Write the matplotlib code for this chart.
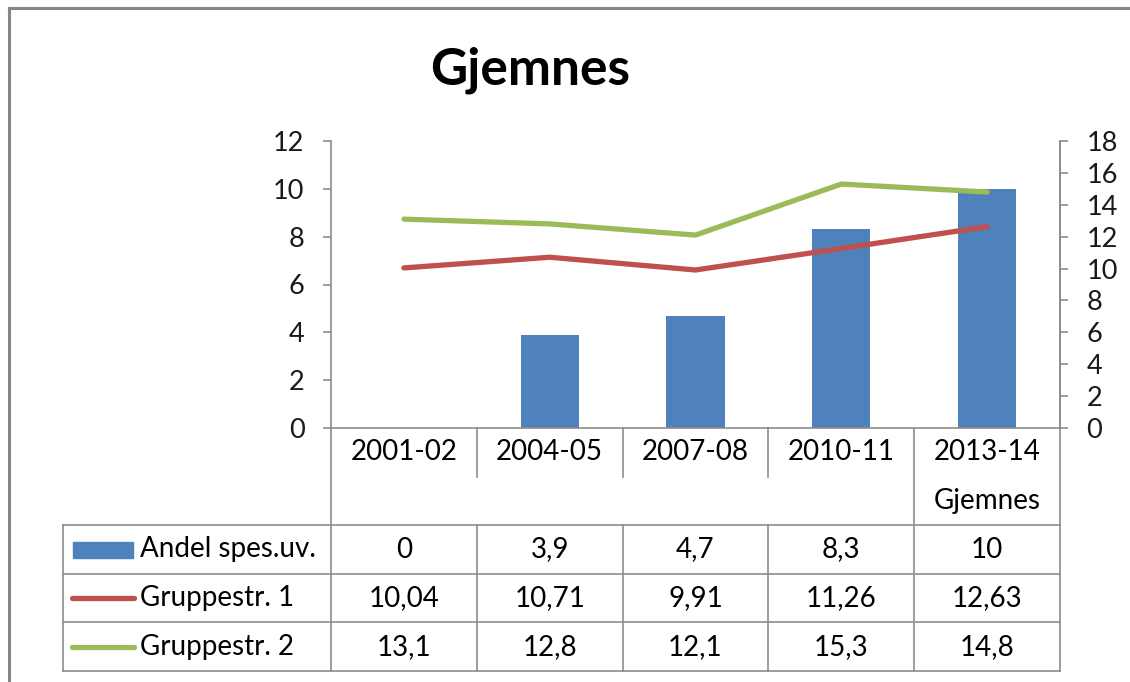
import numpy as np
import matplotlib
matplotlib.use("Agg")
import matplotlib.pyplot as plt
from matplotlib.lines import Line2D
from matplotlib.patches import Rectangle

# data
perioder = ["2001-02", "2004-05", "2007-08", "2010-11", "2013-14"]
andel = [0, 3.9, 4.7, 8.3, 10]
gruppe1 = [10.04, 10.71, 9.91, 11.26, 12.63]
gruppe2 = [13.1, 12.8, 12.1, 15.3, 14.8]
serier = ["Andel spes.uv.", "Gruppestr. 1", "Gruppestr. 2"]

blaa = "#4F81BD"
rod = "#C0504D"
gronn = "#9BBB59"
graa = "#8C8C8C"

plt.rcParams['font.family'] = ['Lato', 'DejaVu Sans']

W, H = 1130, 682
fig = plt.figure(figsize=(W / 100, H / 100), dpi=100)

def fx(px):
    return px / W

def fy(py):
    return 1 - py / H

# plot area in pixels
L, R, T, B = 331, 1060, 141, 428
ax = fig.add_axes([fx(L), fy(B), fx(R) - fx(L), fy(T) - fy(B)])
x = np.arange(len(perioder)) + 0.5
ax.bar(x, andel, width=0.4, color=blaa, zorder=2)
ax.set_xlim(0, len(perioder))
ax.set_ylim(0, 12)
ax.set_yticks(range(0, 13, 2))
ax.set_xticks([])
ax.spines["top"].set_visible(False)
for s in ["left", "right", "bottom"]:
    ax.spines[s].set_color(graa)
    ax.spines[s].set_linewidth(1.2)
ax.tick_params(axis="y", direction="out", length=6, width=1.2, color=graa,
               labelsize=19.5, pad=13, labelcolor="#1a1a1a")
ax.patch.set_alpha(0)

ax2 = ax.twinx()
ax2.plot(x, gruppe1, color=rod, lw=3.8, solid_capstyle="round", zorder=3)
ax2.plot(x, gruppe2, color=gronn, lw=3.8, solid_capstyle="round", zorder=3)
ax2.set_ylim(0, 18)
ax2.set_yticks(range(0, 19, 2))
for s in ["top", "left", "bottom"]:
    ax2.spines[s].set_visible(False)
ax2.spines["right"].set_color(graa)
ax2.spines["right"].set_linewidth(1.2)
ax2.tick_params(axis="y", direction="out", length=6, width=1.2, color=graa,
                labelsize=19.5, pad=13, labelcolor="#1a1a1a")

# title
fig.text(fx(530), fy(70), "Gjemnes", fontsize=37, fontweight="bold",
         ha="center", va="center")

# data table below the axis
tab = fig.add_axes([0, 0, 1, 1])
tab.set_xlim(0, W)
tab.set_ylim(H, 0)
tab.axis("off")
tab.patch.set_alpha(0)

colw = (R - L) / len(perioder)
TL = 63
rad = (671 - B) / 5
lc = dict(color=graa, lw=1.2)

for k in range(2, 6):
    yy = B + k * rad
    tab.plot([TL, R], [yy, yy], **lc)
tab.plot([TL, TL], [B + 2 * rad, B + 5 * rad], **lc)
for i in range(len(perioder) + 1):
    xx = L + i * colw
    if i in (0, len(perioder) - 1, len(perioder)):
        tab.plot([xx, xx], [B, B + 5 * rad], **lc)
    else:
        tab.plot([xx, xx], [B, B + rad], **lc)
        tab.plot([xx, xx], [B + 2 * rad, B + 5 * rad], **lc)

fs = 20
for i, p in enumerate(perioder):
    cx = L + (i + 0.5) * colw
    tab.text(cx, B + 0.5 * rad, p, fontsize=fs, ha="center", va="center")
tab.text(L + 4.5 * colw, B + 1.5 * rad, "Gjemnes", fontsize=fs,
         ha="center", va="center")

def fmt(v):
    return ("%g" % v).replace(".", ",")

for r, vals in enumerate([andel, gruppe1, gruppe2]):
    cy = B + (2.5 + r) * rad
    for i, v in enumerate(vals):
        tab.text(L + (i + 0.5) * colw, cy, fmt(v), fontsize=fs,
                 ha="center", va="center")
    tab.text(140, cy, serier[r], fontsize=fs, ha="left", va="center")

# legend keys
cy = B + 2.5 * rad
tab.add_patch(Rectangle((73, cy - 8), 60, 16, color=blaa))
for r, c in [(1, rod), (2, gronn)]:
    cy = B + (2.5 + r) * rad
    tab.plot([72, 134], [cy, cy], color=c, lw=3.8, solid_capstyle="round")

# chart border
fig.add_artist(Line2D([fx(9), fx(9)], [0, fy(8)], color="#878787", lw=2.2))
fig.add_artist(Line2D([fx(9), 1], [fy(8), fy(8)], color="#878787", lw=2.2))

fig.savefig("out.png", dpi=100)
